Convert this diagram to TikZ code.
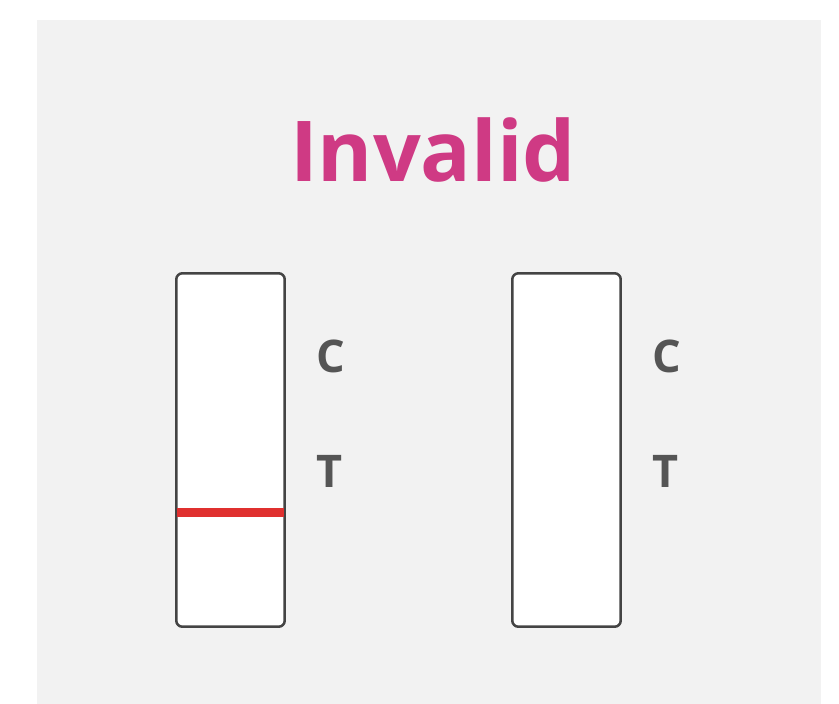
\documentclass[tikz,border=0pt]{standalone}
\usepackage{fontspec}
\setmainfont{Open Sans}
\usetikzlibrary{positioning}
\definecolor{panelgray}{HTML}{F2F2F2}
\definecolor{titlepink}{HTML}{CF3A84}
\definecolor{labelgray}{HTML}{555555}
\definecolor{stripedge}{HTML}{444444}
\definecolor{linered}{HTML}{E0302F}

\begin{document}
\begin{tikzpicture}[
    x=1pt, y=-1pt,
    strip/.style={%
      draw=stripedge,
      fill=white,
      line width=2.5pt,
      rounded corners=6pt,
      rectangle,
      inner sep=0pt,
      minimum width=108.4pt,
      minimum height=353.4pt,
    },
    mark label/.style={%
      text=labelgray,
      font=\fontsize{45}{45}\selectfont\bfseries,
      anchor=base,
      inner sep=0pt,
    },
  ]

    \useasboundingbox (0,0) rectangle (839,704);
    \fill[panelgray] (37,20) rectangle (821,704);

    \node [text=titlepink, font=\fontsize{84}{84}\selectfont\bfseries,
      anchor=base, inner sep=0pt] (title) at (433,181) {Invalid};

    \node [strip] (left) at (230.5,450) {};
    \node [strip] (right) at (566.5,450) {};

    \fill [linered] (177,508) rectangle (284,517);

    \node [mark label] (leftC) at (331,372) {C};
    \node [mark label] (leftT) at (329.5,487) {T};
    \node [mark label] (rightC) at (667,372) {C};
    \node [mark label] (rightT) at (665.5,487) {T};
    \end{tikzpicture}
\end{document}
